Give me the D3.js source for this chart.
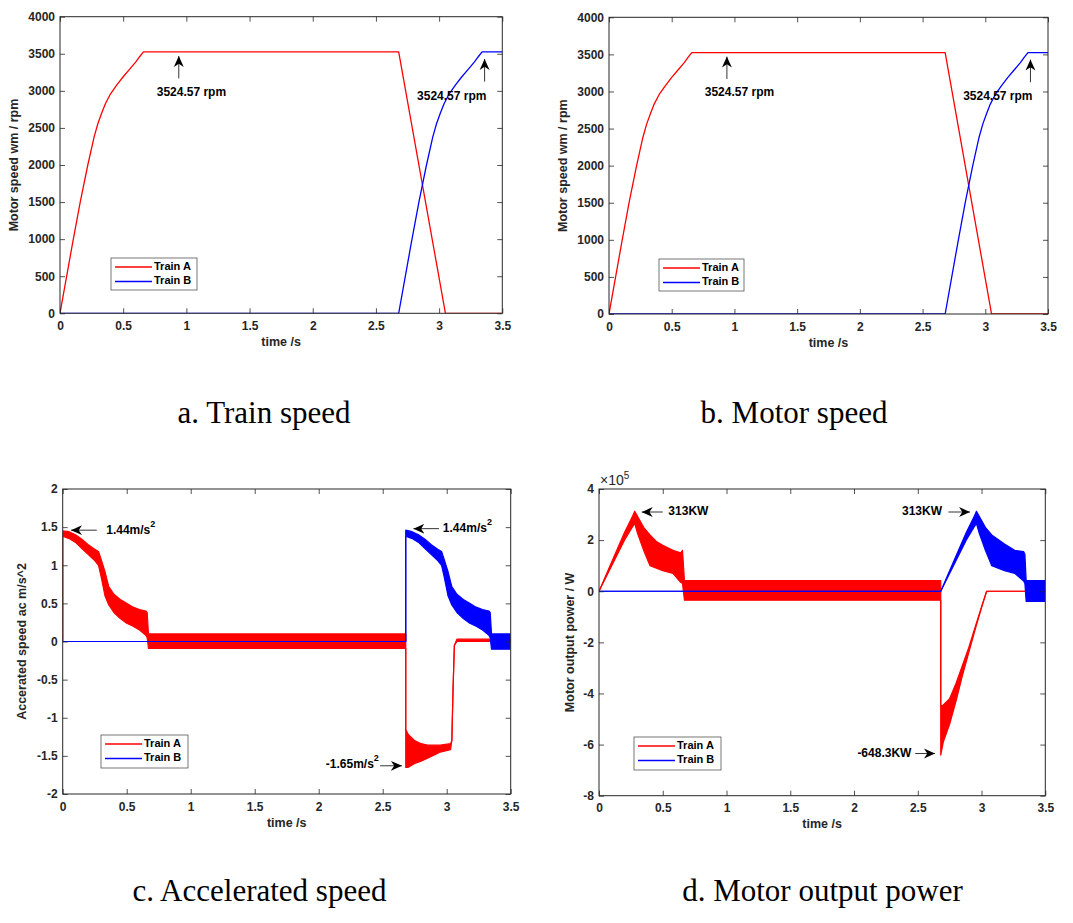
<!DOCTYPE html>
<html>
<head>
<meta charset="utf-8">
<script src="https://cdn.jsdelivr.net/npm/d3@7"></script>
<style>
  html, body { margin: 0; padding: 0; background: #fff; }
  svg { display: block; }
  .tick text { font-family: "Liberation Sans", Arial, sans-serif; font-weight: bold; font-size: 12px; fill: #262626; }
  .tick line { stroke: #262626; }
</style>
</head>
<body>
<svg id="chart" width="1073" height="923"></svg>
<script>
// ---------------- DATA ----------------
const timeTicks = [0, 0.5, 1, 1.5, 2, 2.5, 3, 3.5];
const speedTicks = [0, 500, 1000, 1500, 2000, 2500, 3000, 3500, 4000];
const accelTicks = [-2, -1.5, -1, -0.5, 0, 0.5, 1, 1.5, 2];
const powerTicks = [-8e5, -6e5, -4e5, -2e5, 0, 2e5, 4e5];
const seriesNames = ["Train A", "Train B"];

// speed (rpm): [time s, rpm]
const speedA = [[0,0],[0.1,950],[0.16,1500],[0.22,2000],[0.27,2380],[0.3,2560],[0.33,2700],[0.36,2830],
  [0.40,2960],[0.45,3080],[0.5,3190],[0.55,3290],[0.6,3390],[0.63,3460],[0.66,3524.57],
  [2.68,3524.57],[3.05,0],[3.5,0]];
const speedB = [[0,0],[2.68,0],[2.78,950],[2.84,1500],[2.90,2000],[2.95,2380],[2.98,2560],[3.01,2700],
  [3.04,2830],[3.08,2960],[3.13,3080],[3.18,3190],[3.23,3290],[3.28,3390],[3.31,3460],[3.34,3524.57],
  [3.5,3524.57]];

// acceleration (m/s^2): [time, lower envelope, upper envelope]
const accelA = [[0,0,0],[0,1.38,1.45],[0.05,1.35,1.44],[0.1,1.3,1.4],[0.15,1.22,1.34],[0.2,1.14,1.27],
  [0.25,1.06,1.21],[0.28,1.0,1.18],[0.3,0.85,1.08],[0.33,0.6,0.92],[0.36,0.48,0.72],[0.4,0.38,0.62],
  [0.45,0.3,0.55],[0.5,0.24,0.5],[0.55,0.2,0.45],[0.6,0.15,0.42],[0.65,0.08,0.40],[0.66,0.05,0.38],
  [0.67,-0.09,0.1],[2.68,-0.09,0.1],[2.68,-1.65,-1.15],[2.7,-1.65,-1.22],[2.75,-1.6,-1.3],[2.8,-1.57,-1.34],
  [2.85,-1.53,-1.36],[2.9,-1.49,-1.36],[2.95,-1.45,-1.36],[3.03,-1.42,-1.34],[3.04,-1.3,-1.3],
  [3.05,-0.6,-0.6],[3.06,-0.05,-0.05],[3.08,0.0,0.03],[3.5,0.0,0.03]];
const accelB = [[0,0,0],[2.68,0,0],[2.68,1.38,1.46],[2.73,1.35,1.44],[2.78,1.3,1.4],[2.83,1.22,1.34],
  [2.88,1.14,1.27],[2.93,1.06,1.21],[2.96,1.0,1.18],[2.98,0.85,1.08],[3.01,0.6,0.92],[3.04,0.48,0.72],
  [3.08,0.38,0.62],[3.13,0.3,0.55],[3.18,0.24,0.5],[3.23,0.2,0.45],[3.28,0.15,0.42],[3.33,0.08,0.40],
  [3.34,0.05,0.38],[3.35,-0.1,0.1],[3.5,-0.1,0.1]];

// output power (W): [time, lower envelope, upper envelope]
const powerA = [[0,0,0],[0.1,1.0e5,1.15e5],[0.2,2.0e5,2.3e5],[0.26,2.5e5,2.9e5],[0.28,2.65e5,3.13e5],
  [0.3,2.3e5,2.95e5],[0.35,1.6e5,2.5e5],[0.4,1.0e5,2.2e5],[0.45,0.9e5,1.95e5],[0.5,0.8e5,1.8e5],
  [0.58,0.7e5,1.6e5],[0.64,0.35e5,1.5e5],[0.655,0.3e5,1.6e5],[0.67,-0.35e5,0.42e5],[2.68,-0.35e5,0.42e5],
  [2.68,-6.41e5,-4.5e5],[2.7,-5.9e5,-4.45e5],[2.75,-5.2e5,-4.2e5],[2.8,-4.3e5,-3.6e5],[2.85,-3.3e5,-2.9e5],
  [2.9,-2.4e5,-2.2e5],[2.95,-1.5e5,-1.4e5],[3.0,-0.65e5,-0.6e5],[3.04,0,0],[3.5,0,0]];
const powerB = [[0,0,0],[2.68,0,0],[2.78,1.0e5,1.15e5],[2.88,2.0e5,2.3e5],[2.94,2.5e5,2.9e5],
  [2.96,2.65e5,3.13e5],[2.98,2.3e5,2.95e5],[3.03,1.6e5,2.5e5],[3.08,1.0e5,2.2e5],[3.18,0.8e5,1.85e5],
  [3.26,0.7e5,1.6e5],[3.33,0.4e5,1.55e5],[3.34,0.3e5,1.45e5],[3.35,-0.4e5,0.42e5],[3.5,-0.4e5,0.42e5]];

// annotations (data coordinates): arrow tail (x1,y1) -> head (x2,y2); label
const speedNotes = [
  {x1:0.94, y1:3168, x2:0.94, y2:3470, text:"3524.57 rpm", tx:1.04, ty:2975, anchor:"middle"},
  {x1:3.36, y1:3124, x2:3.36, y2:3430, text:"3524.57 rpm", tx:3.10, ty:2921, anchor:"middle"}
];
const accelNotes = [
  {x1:0.266, y1:1.46, x2:0.065, y2:1.46, text:"1.44m/s", sup:"2", tx:0.34, ty:1.45, anchor:"start"},
  {x1:2.94, y1:1.48, x2:2.74, y2:1.48, text:"1.44m/s", sup:"2", tx:2.97, ty:1.47, anchor:"start"},
  {x1:2.48, y1:-1.63, x2:2.65, y2:-1.63, text:"-1.65m/s", sup:"2", tx:2.47, ty:-1.62, anchor:"end"}
];
const powerNotes = [
  {x1:0.50, y1:3.1e5, x2:0.335, y2:3.1e5, text:"313KW", tx:0.544, ty:3.1e5, anchor:"start"},
  {x1:2.74, y1:3.1e5, x2:2.91, y2:3.1e5, text:"313KW", tx:2.69, ty:3.1e5, anchor:"end"},
  {x1:2.48, y1:-6.35e5, x2:2.635, y2:-6.35e5, text:"-648.3KW", tx:2.45, ty:-6.35e5, anchor:"end"}
];

// ---------------- LAYOUT ----------------
const COLORS = ["#ff0000", "#0000ff"];
const FONT = '"Liberation Sans", Arial, sans-serif';
const svg = d3.select("#chart");

const panels = [
  {id:"a", box:{l:60, r:502.3, t:16.7, b:313.3}, yDomain:[0,4000], yTicks:speedTicks, fmt:d=>String(d),
   ylabel:"Motor speed wm / rpm", ylx:15, xlabelY:343, lines:[speedA, speedB], notes:speedNotes,
   legend:{x:111, y:258, w:86, h:32}, caption:"a. Train speed", capX:264, capY:423},
  {id:"b", box:{l:609, r:1048, t:17.3, b:314}, yDomain:[0,4000], yTicks:speedTicks, fmt:d=>String(d),
   ylabel:"Motor speed wm / rpm", ylx:563.5, xlabelY:343.5, lines:[speedA, speedB], notes:speedNotes,
   legend:{x:659, y:259, w:85, h:32}, caption:"b. Motor speed", capX:794, capY:423},
  {id:"c", box:{l:62.7, r:510.7, t:489, b:794}, yDomain:[-2,2], yTicks:accelTicks, fmt:d=>String(d),
   ylabel:"Accerated speed ac m/s^2", ylx:23, xlabelY:824, bands:[accelA, accelB], notes:accelNotes,
   legend:{x:101, y:735, w:87, h:33}, caption:"c. Accelerated speed", capX:259.5, capY:901},
  {id:"d", box:{l:599, r:1045.3, t:489, b:795.7}, yDomain:[-8e5,4e5], yTicks:powerTicks, fmt:d=>String(d/1e5),
   ylabel:"Motor output power / W", ylx:570.5, xlabelY:825, bands:[powerA, powerB], notes:powerNotes,
   legend:{x:634, y:737, w:87, h:33}, caption:"d. Motor output power", capX:822.5, capY:901, exponent:true}
];

const defs = svg.append("defs");
defs.append("marker").attr("id","ah").attr("viewBox","0 0 10 10").attr("refX",10).attr("refY",5)
  .attr("markerWidth",11).attr("markerHeight",11).attr("markerUnits","userSpaceOnUse").attr("orient","auto")
  .append("path").attr("d","M0,0.5 L10,5 L0,9.5 L3,5 Z").attr("fill","#000");

panels.forEach(p => {
  const B = p.box;
  const x = d3.scaleLinear().domain([0,3.5]).range([B.l, B.r]);
  const y = d3.scaleLinear().domain(p.yDomain).range([B.b, B.t]);
  const g = svg.append("g");

  defs.append("clipPath").attr("id","clip"+p.id).append("rect")
    .attr("x",B.l).attr("y",B.t).attr("width",B.r-B.l).attr("height",B.b-B.t);

  g.append("rect").attr("x",B.l).attr("y",B.t).attr("width",B.r-B.l).attr("height",B.b-B.t).attr("fill","#fff");

  const plot = g.append("g").attr("clip-path","url(#clip"+p.id+")");
  if (p.lines) {
    const line = d3.line().x(d=>x(d[0])).y(d=>y(d[1]));
    p.lines.forEach((s,i) => plot.append("path").attr("d",line(s)).attr("fill","none")
      .attr("stroke",COLORS[i]).attr("stroke-width",1.3).attr("stroke-linejoin","round"));
  }
  if (p.bands) {
    const area = d3.area().x(d=>x(d[0])).y0(d=>y(d[1])).y1(d=>y(d[2]));
    const lo = d3.line().x(d=>x(d[0])).y(d=>y(d[1]));
    const hi = d3.line().x(d=>x(d[0])).y(d=>y(d[2]));
    p.bands.forEach((s,i) => {
      plot.append("path").attr("d",area(s)).attr("fill",COLORS[i]);
      [lo, hi].forEach(gen => plot.append("path").attr("d",gen(s)).attr("fill","none")
        .attr("stroke",COLORS[i]).attr("stroke-width",1.2).attr("stroke-linejoin","round"));
    });
  }

  const ax = (gen, tx, ty, labels) => {
    const a = g.append("g").attr("transform",`translate(${tx},${ty})`).call(gen);
    a.select(".domain").remove();
    a.selectAll(".tick line").attr("stroke","#262626").attr("stroke-width",0.8);
    if (!labels) a.selectAll(".tick text").remove();
    return a;
  };
  ax(d3.axisBottom(x).tickValues(timeTicks).tickSize(-5).tickPadding(8).tickFormat(d=>String(d)), 0, B.b, true);
  ax(d3.axisTop(x).tickValues(timeTicks).tickSize(-5), 0, B.t, false);
  ax(d3.axisLeft(y).tickValues(p.yTicks).tickSize(-5).tickPadding(5).tickFormat(p.fmt), B.l, 0, true);
  ax(d3.axisRight(y).tickValues(p.yTicks).tickSize(-5), B.r, 0, false);

  g.append("rect").attr("x",B.l).attr("y",B.t).attr("width",B.r-B.l).attr("height",B.b-B.t)
    .attr("fill","none").attr("stroke","#262626").attr("stroke-width",1);

  g.append("text").attr("x",(B.l+B.r)/2).attr("y",p.xlabelY).attr("text-anchor","middle")
    .attr("dominant-baseline","middle").attr("font-family",FONT).attr("font-weight","bold")
    .attr("font-size",12.5).attr("fill","#262626").text("time /s");
  g.append("text").attr("transform",`translate(${p.ylx},${(B.t+B.b)/2}) rotate(-90)`)
    .attr("text-anchor","middle").attr("dominant-baseline","middle").attr("font-family",FONT)
    .attr("font-weight","bold").attr("font-size",12.5).attr("fill","#262626").text(p.ylabel);

  if (p.exponent) {
    const e = g.append("text").attr("x",B.l+1).attr("y",B.t-4).attr("font-family",FONT)
      .attr("font-size",14).attr("fill","#262626");
    e.append("tspan").text("\u00d710");
    e.append("tspan").attr("dy",-6).attr("font-size",10).text("5");
  }

  p.notes.forEach(n => {
    g.append("line").attr("x1",x(n.x1)).attr("y1",y(n.y1)).attr("x2",x(n.x2)).attr("y2",y(n.y2))
      .attr("stroke","#000").attr("stroke-width",0.8).attr("marker-end","url(#ah)");
    const t = g.append("text").attr("x",x(n.tx)).attr("y",y(n.ty)).attr("text-anchor",n.anchor)
      .attr("dominant-baseline","middle").attr("font-family",FONT).attr("font-weight","bold")
      .attr("font-size",12).attr("fill","#000");
    t.append("tspan").text(n.text);
    if (n.sup) t.append("tspan").attr("dy",-6).attr("font-size",9).text(n.sup);
  });

  const L = p.legend;
  const lg = g.append("g");
  lg.append("rect").attr("x",L.x).attr("y",L.y).attr("width",L.w).attr("height",L.h)
    .attr("fill","#fff").attr("stroke","#555").attr("stroke-width",0.8);
  seriesNames.forEach((name,i) => {
    const ry = L.y + 9 + i*14.5;
    lg.append("line").attr("x1",L.x+4).attr("x2",L.x+41).attr("y1",ry).attr("y2",ry)
      .attr("stroke",COLORS[i]).attr("stroke-width",1.3);
    lg.append("text").attr("x",L.x+43).attr("y",ry).attr("dominant-baseline","middle")
      .attr("font-family",FONT).attr("font-weight","bold").attr("font-size",11).attr("fill","#000").text(name);
  });

  svg.append("text").attr("x",p.capX).attr("y",p.capY).attr("text-anchor","middle")
    .attr("font-family",'"Liberation Serif", "Times New Roman", serif').attr("font-size",31)
    .attr("fill","#000").text(p.caption);
});
</script>
</body>
</html>
